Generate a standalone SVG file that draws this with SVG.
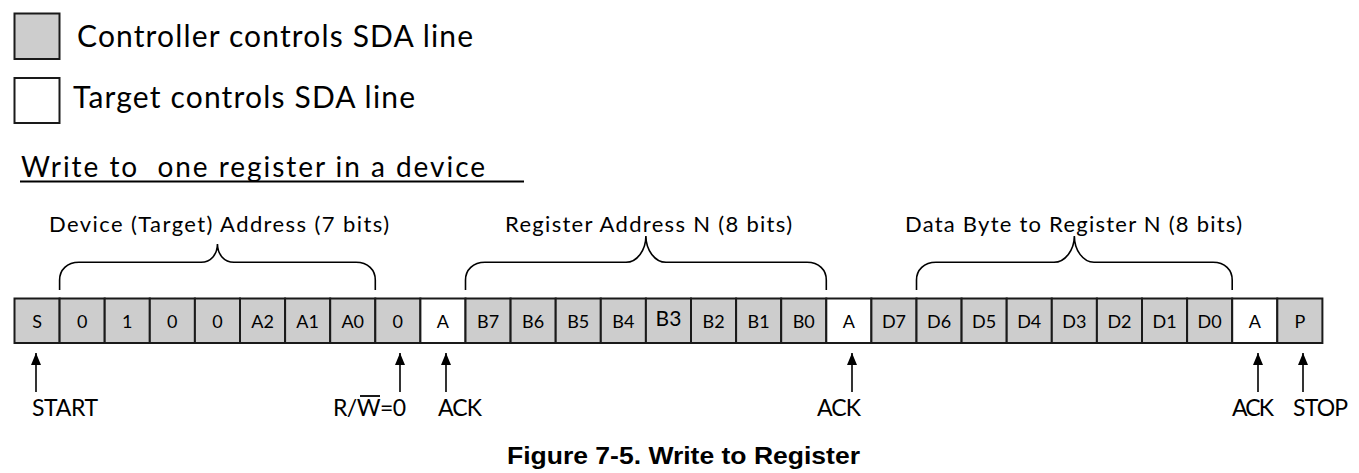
<svg xmlns="http://www.w3.org/2000/svg" width="1359" height="473" viewBox="0 0 1359 473">
<style>
.bg{fill:#ffffff}
.c{fill:#cdcdcd;stroke:#1a1a1a;stroke-width:2}
.w{fill:#ffffff;stroke:#1a1a1a;stroke-width:2}
.t{font-family:Lato,"Liberation Sans",sans-serif;fill:#000}
.ct{font-family:Lato,"Liberation Sans",sans-serif;font-size:18px;text-anchor:middle;fill:#000}
.br{fill:none;stroke:#000;stroke-width:1.6}
.sh{stroke:#000;stroke-width:1.6}
.cap{font-family:"Liberation Sans",Arial,sans-serif;font-weight:bold;font-size:24px;fill:#000}
</style>
<defs>
<marker id="ah" markerWidth="12" markerHeight="10" refX="12" refY="5" orient="auto" markerUnits="userSpaceOnUse" viewBox="0 0 12 10">
<path d="M0,0 L12,5 L0,10 Z" fill="#000"/>
</marker>
</defs>
<rect class="bg" x="0" y="0" width="1359" height="473"/>
<g id="legend">
<rect class="c" x="14.5" y="13.5" width="45" height="45.5"/>
<text class="t" x="77" y="47" font-size="30" textLength="396">Controller controls SDA line</text>
<rect class="w" x="14.5" y="78" width="45" height="45"/>
<text class="t" x="73" y="108" font-size="30" textLength="342">Target controls SDA line</text>
</g>
<g id="title">
<text class="t" x="21" y="177" font-size="28" textLength="464" xml:space="preserve">Write to  one register in a device</text>
<line x1="20" y1="181.5" x2="524" y2="181.5" stroke="#000" stroke-width="2"/>
</g>
<g id="brace-device">
<path class="br" d="M59.6,290 L59.6,280 C59.6,270 67,262.3 79,262.3 L201,262.3 C211,262.3 217.45,254 217.45,244 C217.45,254 224,262.3 234,262.3 L356,262.3 C368,262.3 375.3,270 375.3,280 L375.3,290"/>
<text class="t" x="49" y="232" font-size="22" textLength="340">Device (Target) Address (7 bits)</text>
</g>
<g id="brace-register">
<path class="br" d="M465.5,290 L465.5,280 C465.5,270 473,262.3 485,262.3 L626,262.3 C637,262.3 645.9,250 645.9,236 C645.9,250 655,262.3 666,262.3 L807,262.3 C819,262.3 826.3,270 826.3,280 L826.3,290"/>
<text class="t" x="505" y="232" font-size="22" textLength="287">Register Address N (8 bits)</text>
</g>
<g id="brace-data">
<path class="br" d="M916.5,290 L916.5,280 C916.5,270 924,262.3 936,262.3 L1054,262.3 C1065,262.3 1074.35,250 1074.35,236 C1074.35,250 1083,262.3 1094,262.3 L1213,262.3 C1225,262.3 1232.2,270 1232.2,280 L1232.2,290"/>
<text class="t" x="905" y="232" font-size="22" textLength="337">Data Byte to Register N (8 bits)</text>
</g>
<g id="cell-S"><rect class="c" x="14.5" y="298.5" width="45.1" height="44.5"/><text class="ct" x="37.05" y="327.5">S</text></g>
<g id="cell-a6"><rect class="c" x="59.6" y="298.5" width="45.1" height="44.5"/><text class="ct" x="82.15" y="327.5">0</text></g>
<g id="cell-a5"><rect class="c" x="104.7" y="298.5" width="45.1" height="44.5"/><text class="ct" x="127.25" y="327.5">1</text></g>
<g id="cell-a4"><rect class="c" x="149.8" y="298.5" width="45.1" height="44.5"/><text class="ct" x="172.35" y="327.5">0</text></g>
<g id="cell-a3"><rect class="c" x="194.9" y="298.5" width="45.1" height="44.5"/><text class="ct" x="217.45" y="327.5">0</text></g>
<g id="cell-A2"><rect class="c" x="240" y="298.5" width="45.1" height="44.5"/><text class="ct" x="262.55" y="327.5">A2</text></g>
<g id="cell-A1"><rect class="c" x="285.1" y="298.5" width="45.1" height="44.5"/><text class="ct" x="307.65" y="327.5">A1</text></g>
<g id="cell-A0"><rect class="c" x="330.2" y="298.5" width="45.1" height="44.5"/><text class="ct" x="352.75" y="327.5">A0</text></g>
<g id="cell-RW"><rect class="c" x="375.3" y="298.5" width="45.1" height="44.5"/><text class="ct" x="397.85" y="327.5">0</text></g>
<g id="cell-ack1"><rect class="w" x="420.4" y="298.5" width="45.1" height="44.5"/><text class="ct" x="442.95" y="327.5">A</text></g>
<g id="cell-B7"><rect class="c" x="465.5" y="298.5" width="45.1" height="44.5"/><text class="ct" x="488.05" y="327.5">B7</text></g>
<g id="cell-B6"><rect class="c" x="510.6" y="298.5" width="45.1" height="44.5"/><text class="ct" x="533.15" y="327.5">B6</text></g>
<g id="cell-B5"><rect class="c" x="555.7" y="298.5" width="45.1" height="44.5"/><text class="ct" x="578.25" y="327.5">B5</text></g>
<g id="cell-B4"><rect class="c" x="600.8" y="298.5" width="45.1" height="44.5"/><text class="ct" x="623.35" y="327.5">B4</text></g>
<g id="cell-B3"><rect class="c" x="645.9" y="298.5" width="45.1" height="44.5"/><text class="ct" x="668.45" y="326" style="font-size:21px">B3</text></g>
<g id="cell-B2"><rect class="c" x="691" y="298.5" width="45.1" height="44.5"/><text class="ct" x="713.55" y="327.5">B2</text></g>
<g id="cell-B1"><rect class="c" x="736.1" y="298.5" width="45.1" height="44.5"/><text class="ct" x="758.65" y="327.5">B1</text></g>
<g id="cell-B0"><rect class="c" x="781.2" y="298.5" width="45.1" height="44.5"/><text class="ct" x="803.75" y="327.5">B0</text></g>
<g id="cell-ack2"><rect class="w" x="826.3" y="298.5" width="45.1" height="44.5"/><text class="ct" x="848.85" y="327.5">A</text></g>
<g id="cell-D7"><rect class="c" x="871.4" y="298.5" width="45.1" height="44.5"/><text class="ct" x="893.95" y="327.5">D7</text></g>
<g id="cell-D6"><rect class="c" x="916.5" y="298.5" width="45.1" height="44.5"/><text class="ct" x="939.05" y="327.5">D6</text></g>
<g id="cell-D5"><rect class="c" x="961.6" y="298.5" width="45.1" height="44.5"/><text class="ct" x="984.15" y="327.5">D5</text></g>
<g id="cell-D4"><rect class="c" x="1006.7" y="298.5" width="45.1" height="44.5"/><text class="ct" x="1029.25" y="327.5">D4</text></g>
<g id="cell-D3"><rect class="c" x="1051.8" y="298.5" width="45.1" height="44.5"/><text class="ct" x="1074.35" y="327.5">D3</text></g>
<g id="cell-D2"><rect class="c" x="1096.9" y="298.5" width="45.1" height="44.5"/><text class="ct" x="1119.45" y="327.5">D2</text></g>
<g id="cell-D1"><rect class="c" x="1142" y="298.5" width="45.1" height="44.5"/><text class="ct" x="1164.55" y="327.5">D1</text></g>
<g id="cell-D0"><rect class="c" x="1187.1" y="298.5" width="45.1" height="44.5"/><text class="ct" x="1209.65" y="327.5">D0</text></g>
<g id="cell-ack3"><rect class="w" x="1232.2" y="298.5" width="45.1" height="44.5"/><text class="ct" x="1254.75" y="327.5">A</text></g>
<g id="cell-P"><rect class="c" x="1277.3" y="298.5" width="45.1" height="44.5"/><text class="ct" x="1299.85" y="327.5">P</text></g>
<g id="connectors">
<line class="sh" x1="36" y1="392" x2="36" y2="353" marker-end="url(#ah)"/>
<line class="sh" x1="400" y1="392" x2="400" y2="353" marker-end="url(#ah)"/>
<line class="sh" x1="446" y1="392" x2="446" y2="353" marker-end="url(#ah)"/>
<line class="sh" x1="852" y1="392" x2="852" y2="353" marker-end="url(#ah)"/>
<line class="sh" x1="1258" y1="392" x2="1258" y2="353" marker-end="url(#ah)"/>
<line class="sh" x1="1303" y1="392" x2="1303" y2="353" marker-end="url(#ah)"/>
</g>
<g id="labels">
<text class="t" x="32" y="416" font-size="23" textLength="66">START</text>
<text class="t" x="333" y="416" font-size="23" textLength="73">R/W=0</text>
<line x1="360" y1="396" x2="380" y2="396" stroke="#000" stroke-width="1.8"/>
<text class="t" x="438" y="416" font-size="23" textLength="44">ACK</text>
<text class="t" x="817" y="416" font-size="23" textLength="44">ACK</text>
<text class="t" x="1232" y="416" font-size="23" textLength="42">ACK</text>
<text class="t" x="1293" y="416" font-size="23" textLength="55">STOP</text>
</g>
<g id="caption">
<text class="cap" x="507" y="464" textLength="353" lengthAdjust="spacingAndGlyphs">Figure 7-5. Write to Register</text>
</g>
</svg>
